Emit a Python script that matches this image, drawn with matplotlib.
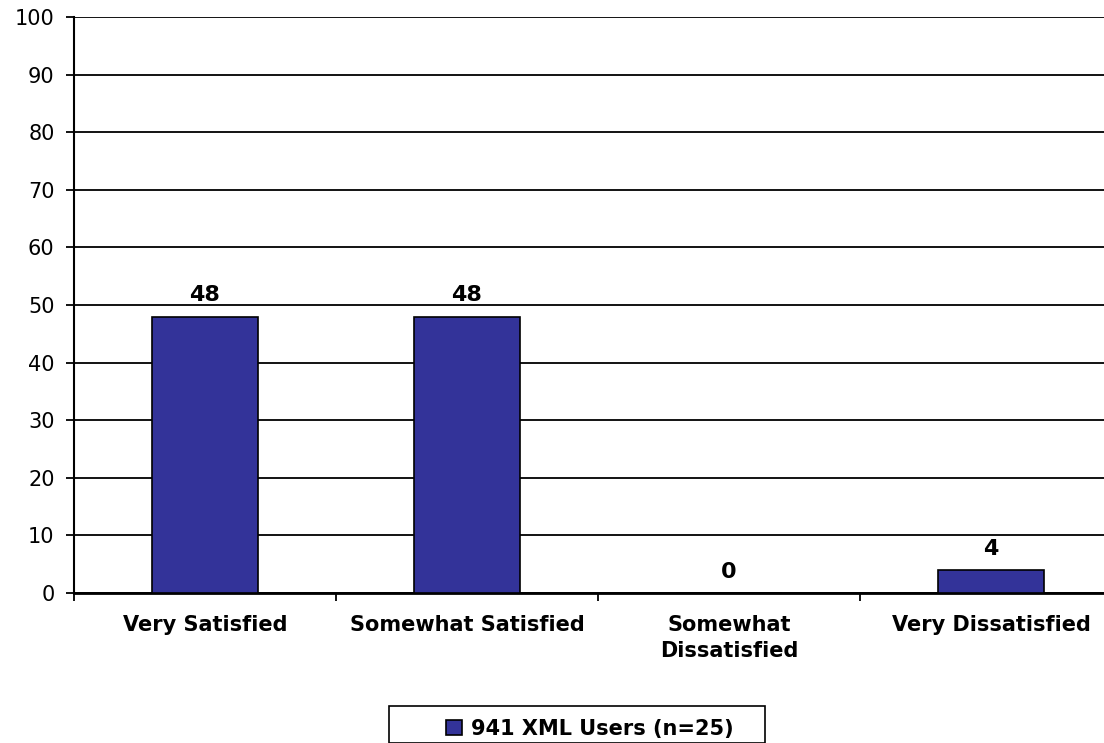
import matplotlib
matplotlib.use("Agg")
import matplotlib.pyplot as plt
from matplotlib.patches import Rectangle
import numpy as np

categories = ["Very Satisfied", "Somewhat Satisfied", "Somewhat\nDissatisfied", "Very Dissatisfied"]
values = [48, 48, 0, 4]
series_name = "941 XML Users (n=25)"
y_ticks = [0, 10, 20, 30, 40, 50, 60, 70, 80, 90, 100]

plt.rcParams['font.family'] = ['DejaVu Sans']

W, H = 1104, 743
fig = plt.figure(figsize=(W/100, H/100), dpi=100)
# axes run off the right edge like in the original
ax = fig.add_axes([74/W, 1 - 593/H, 1048/W, 576/H])

x = np.arange(len(categories))
bars = ax.bar(x, values, width=0.405, color="#333399", edgecolor="black", linewidth=1.2, zorder=3,
              label=series_name)

for xi, v in zip(x, values):
    ax.annotate(str(v), (xi, v), xytext=(0, 8), textcoords="offset points",
                ha="center", va="bottom", fontsize=16, fontweight="bold")

ax.set_xlim(-0.5, len(categories) - 0.5)
ax.set_ylim(0, 100)
ax.set_yticks(y_ticks)
ax.set_yticklabels([str(t) for t in y_ticks], fontsize=15)
ax.yaxis.grid(True, color="black", linewidth=1.3, zorder=0)
ax.set_axisbelow(True)

# category labels centred, tick marks between categories
ax.set_xticks(np.arange(len(categories) + 1) - 0.5)
ax.set_xticklabels([])
ax.tick_params(axis="x", length=6, width=1.3, direction="out")
ax.tick_params(axis="y", length=6, width=1.3, direction="out", pad=8)
for xi, lab in zip(x, categories):
    ax.annotate(lab, (xi, 0), xytext=(0, -16), textcoords="offset points",
                ha="center", va="top", fontsize=15, fontweight="bold", linespacing=1.35)

for s in ["top", "right"]:
    ax.spines[s].set_visible(False)
ax.spines["left"].set_linewidth(1.5)
ax.spines["bottom"].set_linewidth(2)

# legend box (runs off the bottom edge)
fig.patches.append(Rectangle((389/W, 0), (765 - 389)/W, 1 - 706/H, transform=fig.transFigure,
                             fill=False, edgecolor="black", linewidth=1.2))
leg = fig.legend(handles=[bars], labels=[series_name], loc="center left",
                 bbox_to_anchor=(446/W, 1 - 729/H), frameon=False,
                 prop={"size": 15, "weight": "bold"},
                 borderpad=0, handlelength=0.75, handleheight=0.75, handletextpad=0.45,
                 borderaxespad=0)

fig.savefig("out.png", dpi=100)
